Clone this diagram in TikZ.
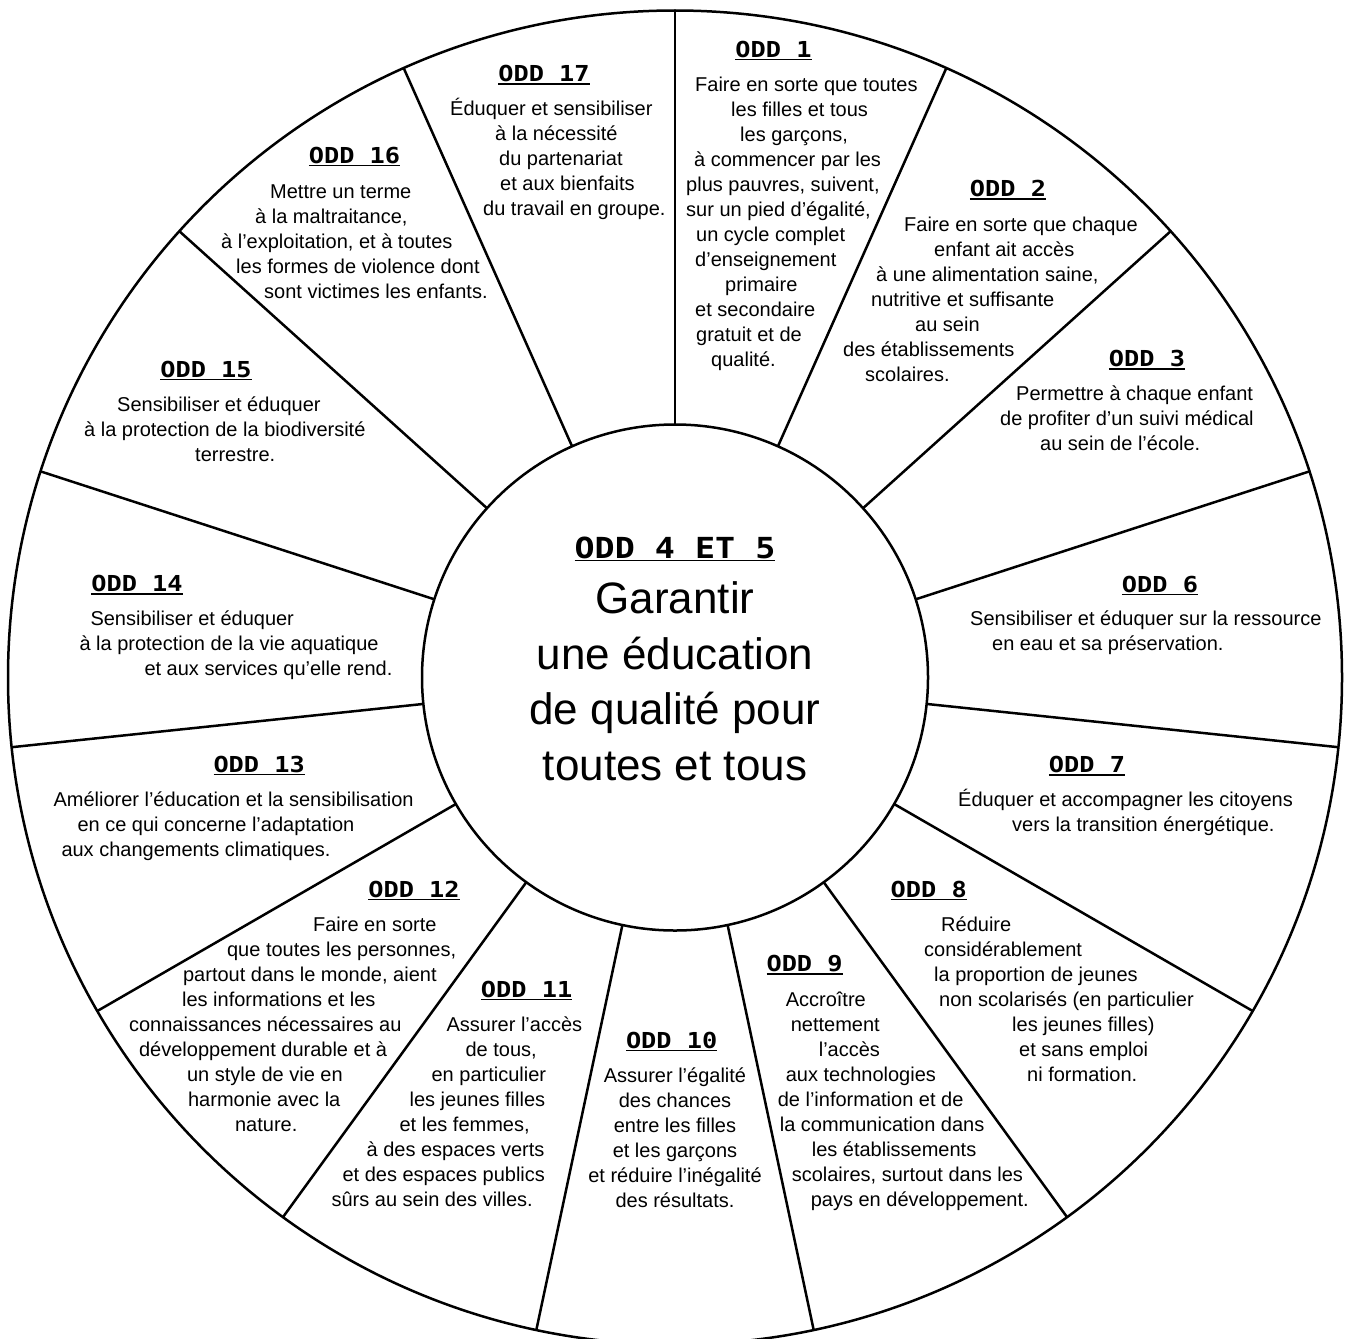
\documentclass[tikz,border=0pt]{standalone}
\usepackage{fontspec}
\setmainfont{Liberation Sans}
\newfontfamily\headfont[FakeStretch=1.15]{DejaVu Sans Mono}
\usepackage{tikz,xcolor}

\newcommand{\oddtitle}[1]{\setbox0=\hbox{#1}\rlap{\rule[-3pt]{\wd0}{1.5pt}}\box0}
\newcommand{\indt}[1]{\hspace*{#1pt}}

\begin{document}
\begin{tikzpicture}[
        x=1pt, y=-1pt,
        ring/.style={circle, draw, line width=2.5pt, inner sep=0pt, outer sep=0pt},
        spoke/.style={line width=2.5pt},
        head/.style={anchor=base, inner sep=0pt, font=\headfont\bfseries\fontsize{22}{22}\selectfont},
        body/.style={anchor=base west, inner sep=0pt, align=left, font=\fontsize{20}{25}\selectfont}
    ]
        \useasboundingbox (0,0) rectangle (1346,1338);
        \clip (0,0) rectangle (1346,1338);

        % Define wheel
        \node[ring, minimum size=1334pt] (rim) at (675,677.5) {};
        \node[ring, minimum size=506pt] (hub) at (675,677.5) {};

        % Spokes
        \draw[spoke] (hub.90) -- (rim.90);
        \draw[spoke] (hub.66) -- (rim.66);
        \draw[spoke] (hub.42) -- (rim.42);
        \draw[spoke] (hub.18) -- (rim.18);
        \draw[spoke] (hub.-6) -- (rim.-6);
        \draw[spoke] (hub.-30) -- (rim.-30);
        \draw[spoke] (hub.-54) -- (rim.-54);
        \draw[spoke] (hub.-78) -- (rim.-78);
        \draw[spoke] (hub.-102) -- (rim.-102);
        \draw[spoke] (hub.-126) -- (rim.-126);
        \draw[spoke] (hub.-150) -- (rim.-150);
        \draw[spoke] (hub.-174) -- (rim.-174);
        \draw[spoke] (hub.162) -- (rim.162);
        \draw[spoke] (hub.138) -- (rim.138);
        \draw[spoke] (hub.114) -- (rim.114);

        % Centre (texts are anchored on the baseline of their last line)
        \node[head, font=\headfont\bfseries\fontsize{29}{29}\selectfont] (h45) at (675,558.3) {\oddtitle{ODD 4 ET 5}};
        \node[anchor=base, align=center, inner sep=0pt, font=\fontsize{44}{55.7}\selectfont] (goal) at (675,780.4)
            {Garantir\\une éducation\\de qualité pour\\toutes et tous};

        % ODD 1
        \node[head] (h1) at (773.5,57.3) {\oddtitle{ODD 1}};
        \node[body] (t1) at (686,366.7) {\indt{9}Faire en sorte que toutes\\
            \indt{45}les filles et tous\\
            \indt{54}les garçons,\\
            \indt{8}à commencer par les\\
            plus pauvres, suivent,\\
            sur un pied d'égalité,\\
            \indt{10}un cycle complet\\
            \indt{9}d'enseignement\\
            \indt{39}primaire\\
            \indt{9}et secondaire\\
            \indt{10}gratuit et de\\
            \indt{25}qualité.};

        % ODD 2
        \node[head] (h2) at (1008,196.7) {\oddtitle{ODD 2}};
        \node[body] (t2) at (843,381.7) {\indt{61}Faire en sorte que chaque\\
            \indt{91}enfant ait accès\\
            \indt{33}à une alimentation saine,\\
            \indt{28}nutritive et suffisante\\
            \indt{72}au sein\\
            des établissements\\
            \indt{22}scolaires.};

        % ODD 3
        \node[head] (h3) at (1147,366.7) {\oddtitle{ODD 3}};
        \node[body] (t3) at (1000,450) {\indt{16}Permettre à chaque enfant\\
            de profiter d'un suivi médical\\
            \indt{40}au sein de l'école.};

        % ODD 6
        \node[head] (h6) at (1160,592.3) {\oddtitle{ODD 6}};
        \node[body] (t6) at (970,650.7) {Sensibiliser et éduquer sur la ressource\\
            \indt{22}en eau et sa préservation.};

        % ODD 7
        \node[head] (h7) at (1087,772.7) {\oddtitle{ODD 7}};
        \node[body] (t7) at (958,831.7) {Éduquer et accompagner les citoyens\\
            \indt{54}vers la transition énergétique.};

        % ODD 8
        \node[head] (h8) at (928.7,897.3) {\oddtitle{ODD 8}};
        \node[body] (t8) at (924,1081.7) {\indt{17}Réduire\\
            considérablement\\
            \indt{10}la proportion de jeunes\\
            \indt{15}non scolarisés (en particulier\\
            \indt{88}les jeunes filles)\\
            \indt{95}et sans emploi\\
            \indt{103}ni formation.};

        % ODD 9
        \node[head] (h9) at (804.6,971.7) {\oddtitle{ODD 9}};
        \node[body] (t9) at (777.6,1206.7) {\indt{8}Accroître\\
            \indt{13}nettement\\
            \indt{41}l'accès\\
            \indt{8}aux technologies\\
            de l'information et de\\
            \indt{2}la communication dans\\
            \indt{34}les établissements\\
            \indt{14}scolaires, surtout dans les\\
            \indt{33}pays en développement.};

        % ODD 10
        \node[head] (h10) at (671.7,1048.3) {\oddtitle{ODD 10}};
        \node[body, align=center, anchor=base] (t10) at (675,1207.7) {Assurer l'égalité\\
            des chances\\
            entre les filles\\
            et les garçons\\
            et réduire l'inégalité\\
            des résultats.};

        % ODD 11
        \node[head] (h11) at (526.6,997.3) {\oddtitle{ODD 11}};
        \node[body] (t11) at (331.4,1206.7) {\indt{115}Assurer l'accès\\
            \indt{134}de tous,\\
            \indt{100}en particulier\\
            \indt{78}les jeunes filles\\
            \indt{68}et les femmes,\\
            \indt{35}à des espaces verts\\
            \indt{11}et des espaces publics\\
            sûrs au sein des villes.};

        % ODD 12
        \node[head] (h12) at (414,897.3) {\oddtitle{ODD 12}};
        \node[body] (t12) at (128.9,1131.7) {\indt{184}Faire en sorte\\
            \indt{98}que toutes les personnes,\\
            \indt{54}partout dans le monde, aient\\
            \indt{53}les informations et les\\
            connaissances nécessaires au\\
            \indt{10}développement durable et à\\
            \indt{58}un style de vie en\\
            \indt{59}harmonie avec la\\
            \indt{106}nature.};

        % ODD 13
        \node[head] (h13) at (259.2,772.3) {\oddtitle{ODD 13}};
        \node[body] (t13) at (53.3,856.7) {Améliorer l'éducation et la sensibilisation\\
            \indt{24}en ce qui concerne l'adaptation\\
            \indt{8}aux changements climatiques.};

        % ODD 14
        \node[head] (h14) at (137,591.7) {\oddtitle{ODD 14}};
        \node[body] (t14) at (79.3,675) {\indt{11}Sensibiliser et éduquer\\
            à la protection de la vie aquatique\\
            \indt{65}et aux services qu'elle rend.};

        % ODD 15
        \node[head] (h15) at (206,377) {\oddtitle{ODD 15}};
        \node[body] (t15) at (84,461) {\indt{33}Sensibiliser et éduquer\\
            à la protection de la biodiversité\\
            \indt{111}terrestre.};

        % ODD 16
        \node[head] (h16) at (354.5,163.3) {\oddtitle{ODD 16}};
        \node[body] (t16) at (221,298.3) {\indt{49}Mettre un terme\\
            \indt{34}à la maltraitance,\\
            à l'exploitation, et à toutes\\
            \indt{15}les formes de violence dont\\
            \indt{43}sont victimes les enfants.};

        % ODD 17
        \node[head] (h17) at (544,81.7) {\oddtitle{ODD 17}};
        \node[body] (t17) at (450,215) {Éduquer et sensibiliser\\
            \indt{45}à la nécessité\\
            \indt{49}du partenariat\\
            \indt{50}et aux bienfaits\\
            \indt{33}du travail en groupe.};

    \end{tikzpicture}
\end{document}
